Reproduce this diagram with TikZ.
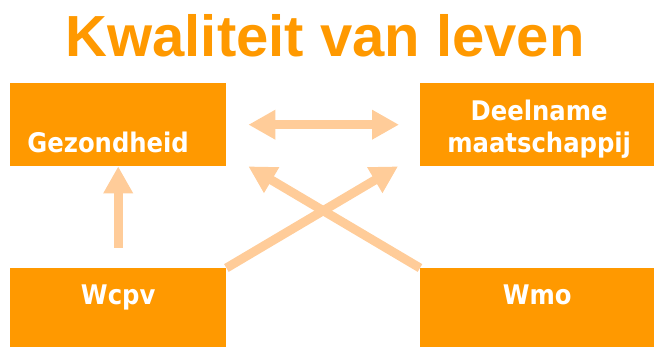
\documentclass[tikz,border=0pt]{standalone}
\usepackage{fontspec}
\usepackage{xcolor}
\usetikzlibrary{arrows.meta}
\setmainfont{Liberation Sans}
\newfontfamily\boxfont{DejaVu Sans Condensed}

\definecolor{kwaloranje}{RGB}{255,153,0}
\definecolor{pijlperzik}{RGB}{255,204,153}

\tikzset{
    vak/.style={rectangle, fill=kwaloranje, inner sep=0pt, anchor=north west},
    vaktekst/.style={text=white, font=\boxfont\bfseries\fontsize{27}{32}\selectfont, inner sep=0pt, anchor=base, align=center},
    pijl/.style={draw=pijlperzik, line width=9pt, -{Triangle[length=27pt,width=28pt]}},
}

\begin{document}
\begin{tikzpicture}[x=1pt, y=-1pt]

    \useasboundingbox (0,0) rectangle (654,347);

    % titel
    \node[text=kwaloranje, font=\bfseries\fontsize{58}{58}\selectfont, inner sep=0pt, anchor=base] (titel) at (325,57) {Kwaliteit van leven};

    % vakken
    \node[vak, minimum width=216pt, minimum height=83pt] (gez) at (10,83) {};
    \node[vak, minimum width=234pt, minimum height=83pt] (deel) at (420,83) {};
    \node[vak, minimum width=216pt, minimum height=79pt] (wcpv) at (10,268) {};
    \node[vak, minimum width=234pt, minimum height=79pt] (wmo) at (420,268) {};

    % teksten in de vakken
    \node[vaktekst] (gezlabel) at ([xshift=-10pt, yshift=14pt]gez.south) {Gezondheid};
    \node[vaktekst] (deellabel) at ([xshift=2pt, yshift=14pt]deel.south) {Deelname\\maatschappij};
    \node[vaktekst] (wcpvlabel) at ([yshift=-37pt]wcpv.north) {Wcpv};
    \node[vaktekst] (wmolabel) at ([yshift=-37pt]wmo.north) {Wmo};

    % pijlen
    \draw[pijl, {Triangle[length=27pt,width=28pt]}-{Triangle[length=27pt,width=28pt]}] ([xshift=22pt]gez.east) -- ([xshift=-21pt]deel.west);
    \draw[pijl] ([yshift=20pt]wcpv.north) -- (gez.south);
    \draw[pijl] (wcpv.north east) -- ([xshift=-22pt]deel.south west);
    \draw[pijl] (wmo.north west) -- ([xshift=22pt]gez.south east);

\end{tikzpicture}
\end{document}
